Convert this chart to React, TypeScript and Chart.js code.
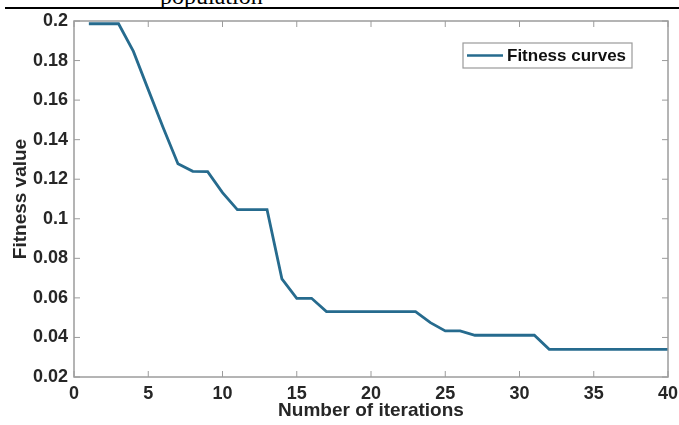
import React, { useEffect, useRef } from "react";
import { Chart, registerables } from "chart.js";

Chart.register(...registerables);

const iterations = [1, 2, 3, 4, 5, 6, 7, 8, 9, 10, 11, 12, 13, 14, 15, 16, 17, 18, 19, 20, 21, 22, 23, 24, 25, 26, 27, 28, 29, 30, 31, 32, 33, 34, 35, 36, 37, 38, 39, 40];
const fitness = [
  0.1986, 0.1986, 0.1986, 0.1846, 0.1653, 0.1461, 0.1278, 0.124, 0.1238, 0.1132,
  0.1046, 0.1046, 0.1046, 0.0696, 0.0598, 0.0598, 0.0531, 0.0531, 0.0531, 0.0531,
  0.0531, 0.0531, 0.0531, 0.0475, 0.0433, 0.0433, 0.0411, 0.0411, 0.0411, 0.0411,
  0.0411, 0.034, 0.034, 0.034, 0.034, 0.034, 0.034, 0.034, 0.034, 0.034,
];
const xTicks = [0, 5, 10, 15, 20, 25, 30, 35, 40];
const yTicks = [0.02, 0.04, 0.06, 0.08, 0.1, 0.12, 0.14, 0.16, 0.18, 0.2];
const seriesLabel = "Fitness curves";
const xTitle = "Number of iterations";
const yTitle = "Fitness value";
const captionText = "population";

const LINE_COLOR = "#266b8e";
const AXIS_COLOR = "#9c9c9c";
const TEXT_COLOR = "#262626";
const FONT = "'Liberation Sans', Arial, sans-serif";

const boxPlugin = {
  id: "matlabBox",
  afterDatasetsDraw(chart: any) {
    const { ctx, chartArea, scales } = chart;
    const { left, right, top, bottom } = chartArea;
    ctx.save();
    ctx.strokeStyle = AXIS_COLOR;
    ctx.lineWidth = 1.5;
    ctx.strokeRect(left, top, right - left, bottom - top);
    const tl = 6;
    ctx.beginPath();
    xTicks.forEach((v) => {
      const px = scales.x.getPixelForValue(v);
      ctx.moveTo(px, bottom);
      ctx.lineTo(px, bottom - tl);
      ctx.moveTo(px, top);
      ctx.lineTo(px, top + tl);
    });
    yTicks.forEach((v) => {
      const py = scales.y.getPixelForValue(v);
      ctx.moveTo(left, py);
      ctx.lineTo(left + tl, py);
      ctx.moveTo(right, py);
      ctx.lineTo(right - tl, py);
    });
    ctx.lineWidth = 1;
    ctx.stroke();

    // legend box
    const lx = 463, ly = 43, lw = 169, lh = 25;
    ctx.fillStyle = "#ffffff";
    ctx.fillRect(lx, ly, lw, lh);
    ctx.strokeStyle = "#9a9a9a";
    ctx.lineWidth = 1.2;
    ctx.strokeRect(lx, ly, lw, lh);
    ctx.strokeStyle = LINE_COLOR;
    ctx.lineWidth = 2.6;
    ctx.beginPath();
    ctx.moveTo(467, ly + lh / 2);
    ctx.lineTo(503, ly + lh / 2);
    ctx.stroke();
    ctx.fillStyle = "#111111";
    ctx.font = `bold 17px ${FONT}`;
    ctx.textBaseline = "middle";
    ctx.textAlign = "left";
    ctx.fillText(seriesLabel, 507, ly + lh / 2 + 1);
    ctx.restore();
  },
};

export default function App() {
  const ref = useRef<HTMLCanvasElement | null>(null);
  useEffect(() => {
    if (!ref.current) return;
    const chart = new Chart(ref.current, {
      type: "line",
      data: {
        datasets: [
          {
            label: seriesLabel,
            data: iterations.map((x, i) => ({ x, y: fitness[i] })),
            borderColor: LINE_COLOR,
            borderWidth: 2.8,
            pointRadius: 0,
            tension: 0,
            fill: false,
          },
        ],
      },
      options: {
        animation: false,
        responsive: false,
        devicePixelRatio: 1,
        layout: { padding: { left: 0, right: 11, top: 21, bottom: 0 } },
        plugins: { legend: { display: false }, tooltip: { enabled: false } },
        scales: {
          x: {
            type: "linear",
            min: 0,
            max: 40,
            afterBuildTicks: (axis: any) => {
              axis.ticks = xTicks.map((v) => ({ value: v }));
            },
            afterFit: (axis: any) => {
              axis.height = 48;
              axis.paddingRight = 0;
              axis.paddingLeft = 0;
            },
            grid: { display: false, drawTicks: false },
            border: { display: false },
            ticks: {
              padding: 6,
              color: TEXT_COLOR,
              font: { family: FONT, size: 18, weight: "bold" },
              maxRotation: 0,
              autoSkip: false,
            },
            title: {
              display: true,
              text: xTitle,
              color: TEXT_COLOR,
              font: { family: FONT, size: 19, weight: "bold" },
              padding: { top: 0, bottom: 3 },
            },
          },
          y: {
            type: "linear",
            min: 0.02,
            max: 0.2,
            afterBuildTicks: (axis: any) => {
              axis.ticks = yTicks.map((v) => ({ value: v }));
            },
            afterFit: (axis: any) => {
              axis.width = 74;
              axis.paddingTop = 0;
              axis.paddingBottom = 0;
            },
            grid: { display: false, drawTicks: false },
            border: { display: false },
            ticks: {
              padding: 6,
              color: TEXT_COLOR,
              font: { family: FONT, size: 18, weight: "bold" },
              autoSkip: false,
              callback: (v: any) => String(Number(Number(v).toFixed(2))),
            },
            title: {
              display: true,
              text: yTitle,
              color: TEXT_COLOR,
              font: { family: FONT, size: 19, weight: "bold" },
              padding: { top: 9, bottom: 0 },
            },
          },
        },
      } as any,
      plugins: [boxPlugin],
    });
    return () => chart.destroy();
  }, []);

  return (
    <div
      style={{
        position: "fixed",
        left: 0,
        top: 0,
        width: 679,
        height: 425,
        background: "#fff",
        overflow: "hidden",
      }}
    >
      <div
        style={{
          position: "absolute",
          left: 160,
          top: -16,
          font: "24px 'Liberation Serif', 'Times New Roman', serif",
          lineHeight: "24px",
          color: "#000",
          whiteSpace: "nowrap",
        }}
      >
        {captionText}
      </div>
      <div
        style={{
          position: "absolute",
          left: 5,
          top: 7,
          width: 674,
          height: 2,
          background: "#000",
        }}
      />
      <canvas
        ref={ref}
        width={679}
        height={425}
        style={{ position: "absolute", left: 0, top: 0, width: 679, height: 425 }}
      />
    </div>
  );
}
